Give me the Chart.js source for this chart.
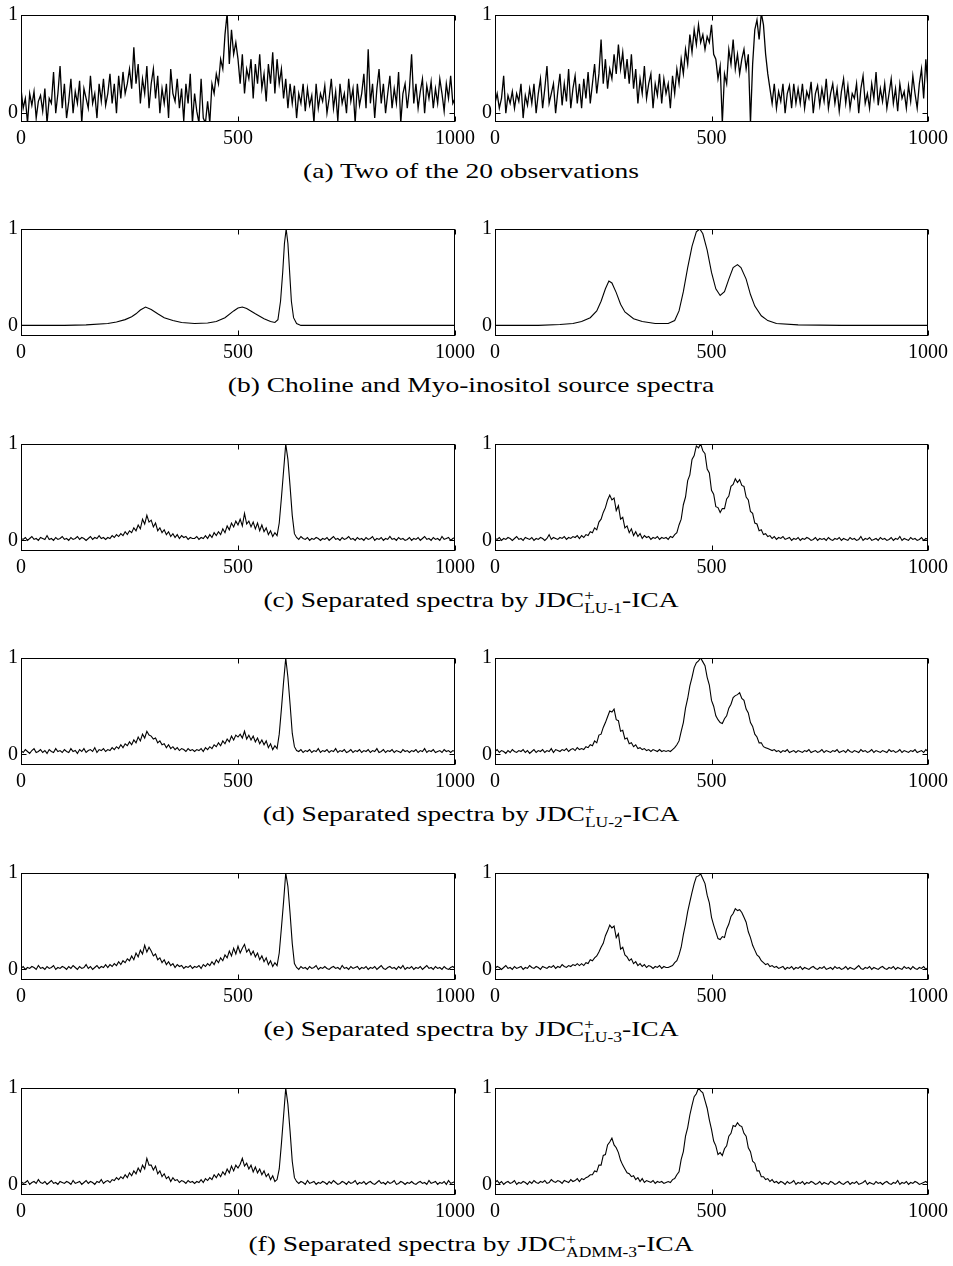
<!DOCTYPE html>
<html><head><meta charset="utf-8">
<script src="https://cdn.jsdelivr.net/npm/chart.js@4.4.1/dist/chart.umd.min.js"></script>
<style>
body{margin:0;background:#fff;width:953px;height:1266px;position:relative;overflow:hidden;font-family:"Liberation Serif",serif;}
canvas{position:absolute;}
.cap{position:absolute;left:0;width:942px;text-align:center;font-size:22px;line-height:24px;color:#000;white-space:nowrap;transform:scaleX(1.25);transform-origin:471px 50%;}
.ss{display:inline-block;vertical-align:-6px;font-size:14px;line-height:13px;text-align:left;}
.ss span{display:block;}
</style></head><body>
<script>
// ---------- DATA ----------
const xTicks = [0, 500, 1000];
const yTicks = [0, 1];
const sampleStep = 5;   // one value every 5 samples, 0..1000

// (a) two of the 20 observations
const obs1 = [
 0.25,0.05,0.15,-0.1,0.2,0.08,0.22,-0.05,0.12,0.18,0.02,0.25,-0.1,0.15,0.1,0.42,0.0,0.2,0.48,0.05,
 0.3,-0.05,0.12,0.35,0.0,0.22,0.1,0.33,-0.1,0.25,0.15,0.05,0.38,0.1,0.2,-0.05,0.3,0.12,0.35,0.08,
 0.2,0.4,0.1,0.3,0.0,0.38,0.15,0.42,0.2,0.3,0.45,0.25,0.67,0.3,0.5,0.1,0.35,0.2,0.48,0.05,
 0.3,0.45,0.15,0.38,0.0,0.25,0.1,0.3,-0.05,0.45,0.2,0.12,0.35,0.05,0.25,-0.08,0.3,0.1,0.4,-0.1,
 0.2,0.02,-0.1,0.35,-0.05,-0.1,0.12,-0.1,0.3,0.2,0.4,0.3,0.55,0.45,0.8,1.02,0.5,0.85,0.6,0.72,
 0.55,0.3,0.6,0.2,0.45,0.35,0.55,0.15,0.5,0.3,0.6,0.25,0.4,0.12,0.5,0.3,0.62,0.2,0.55,0.3,
 0.45,0.15,0.35,0.05,0.3,0.1,0.28,-0.05,0.2,0.1,0.3,0.02,0.25,0.08,0.18,-0.1,0.3,0.05,0.2,0.12,
 0.28,0.0,0.15,0.35,0.05,0.22,-0.08,0.3,0.1,0.2,0.0,0.35,0.12,0.25,-0.1,0.3,0.08,0.2,0.4,0.05,
 0.65,0.1,0.3,-0.05,0.25,0.45,0.1,0.3,0.0,0.2,0.38,0.05,0.25,0.1,0.42,-0.1,0.2,0.3,0.05,0.25,
 0.6,0.1,0.3,0.05,0.22,0.35,0.0,0.28,0.15,0.32,0.05,0.25,0.1,0.35,0.2,0.02,0.3,0.15,0.38,0.1,
 0.15];
const obs2 = [
 0.1,0.2,0.05,0.15,0.38,0.0,0.18,0.1,0.22,0.05,0.2,0.12,0.3,-0.05,0.18,0.08,0.25,0.1,0.3,0.0,
 0.2,0.35,0.05,0.25,0.48,0.1,0.2,0.3,0.0,0.22,0.4,0.08,0.3,0.12,0.45,0.05,0.25,0.38,0.1,0.3,
 0.05,0.35,0.15,0.42,0.1,0.3,0.5,0.2,0.4,0.75,0.3,0.55,0.25,0.45,0.35,0.6,0.4,0.7,0.45,0.62,
 0.35,0.55,0.3,0.6,0.25,0.45,0.1,0.35,0.2,0.48,0.15,0.3,0.4,0.05,0.3,0.18,0.4,0.1,0.35,0.2,
 0.3,0.05,0.38,0.2,0.45,0.3,0.55,0.4,0.65,0.5,0.8,0.62,0.85,0.7,0.9,0.72,0.8,0.65,0.78,0.72,
 0.9,0.6,0.55,0.35,0.48,-0.1,0.4,0.3,0.65,0.5,0.75,0.45,0.6,0.4,0.55,0.65,0.45,0.6,-0.1,0.5,
 0.85,0.95,0.75,1.02,0.9,0.6,0.4,0.25,0.1,0.3,0.05,0.22,0.12,0.3,0.0,0.2,0.28,0.05,0.3,0.1,
 0.25,0.1,0.3,0.05,0.22,0.15,0.32,0.0,0.2,0.28,0.08,0.25,0.12,0.35,0.05,0.2,0.3,0.1,0.25,0.02,
 0.22,0.35,0.1,0.28,0.05,0.2,0.15,0.3,0.0,0.25,0.38,0.1,0.2,0.05,0.3,0.15,0.42,0.08,0.25,0.12,
 0.3,0.05,0.2,0.35,0.1,0.25,0.02,0.3,0.15,0.22,0.05,0.28,0.12,0.38,0.2,0.05,0.3,0.45,0.15,0.55,
 0.25];

// (b) source spectra (smooth, read at these positions)
const cholineX = [0,100,150,200,220,240,255,265,275,287,300,315,330,350,370,400,430,450,470,490,500,510,520,540,560,575,585,592,598,603,607,611,615,619,623,628,635,645,700,800,1000];
const cholineY = [0,0,0.005,0.02,0.035,0.06,0.09,0.12,0.16,0.19,0.165,0.12,0.08,0.05,0.03,0.02,0.025,0.04,0.08,0.15,0.18,0.19,0.175,0.12,0.07,0.04,0.03,0.06,0.25,0.55,0.85,1.0,0.85,0.55,0.25,0.08,0.02,0,0,0,0];
const myoX = [0,100,150,180,200,220,235,245,255,263,270,280,290,300,320,340,370,400,415,425,435,445,455,465,473,480,490,500,510,520,530,540,550,560,568,580,590,600,615,630,650,700,800,1000];
const myoY = [0,0,0.01,0.02,0.04,0.08,0.15,0.25,0.38,0.46,0.44,0.34,0.22,0.14,0.07,0.04,0.02,0.02,0.05,0.15,0.35,0.6,0.82,0.97,1.0,0.95,0.78,0.55,0.38,0.31,0.35,0.48,0.6,0.63,0.6,0.48,0.32,0.2,0.1,0.05,0.02,0.005,0,0];

// (c)-(f) separated spectra (left: choline estimate, right: myo-inositol estimate)
const sepLU1a = [
 .02,.01,.03,.0,.02,.04,.01,.02,.0,.03,.02,.01,.05,.01,.02,.0,.03,.01,.02,.04,
 .01,.02,.0,.03,.01,.02,.04,.01,.03,.02,.0,.02,.04,.01,.03,.02,.05,.02,.03,.01,
 .03,.02,.05,.03,.06,.04,.07,.05,.09,.06,.1,.08,.13,.1,.16,.12,.22,.17,.26,.19,
 .21,.14,.18,.1,.13,.08,.11,.06,.09,.04,.07,.03,.06,.02,.05,.03,.04,.01,.03,.02,
 .02,.04,.01,.03,.02,.05,.02,.06,.03,.08,.05,.09,.06,.12,.08,.15,.11,.18,.14,.2,
 .16,.22,.15,.28,.17,.2,.14,.19,.12,.18,.1,.16,.09,.13,.06,.1,.04,.08,.05,.18,
 .44,.72,1.0,.84,.56,.26,.07,.03,.01,.04,.02,.01,.03,.0,.02,.01,.03,.02,.0,.02,
 .01,.03,.0,.02,.04,.01,.02,.0,.03,.01,.02,.04,.01,.02,.0,.03,.01,.02,.0,.03,
 .01,.02,.04,.0,.02,.01,.03,.0,.02,.01,.04,.01,.02,.0,.03,.01,.02,.0,.01,.03,
 .0,.02,.01,.03,.0,.02,.04,.01,.02,.0,.03,.01,.02,.0,.04,.01,.02,.03,.0,.02,
 .03];
const sepLU1b = [
 .02,.01,.03,.0,.02,.01,.03,.02,.0,.02,.04,.01,.02,.0,.03,.02,.01,.03,.0,.02,
 .01,.03,.02,.0,.02,.06,.01,.03,.02,.01,.03,.02,.04,.01,.03,.02,.04,.03,.05,.02,
 .05,.03,.06,.05,.09,.08,.13,.11,.19,.22,.29,.34,.42,.47,.42,.44,.31,.36,.22,.24,
 .13,.15,.08,.12,.05,.09,.04,.07,.02,.05,.03,.04,.01,.03,.02,.04,.01,.03,.02,.03,
 .01,.04,.03,.06,.08,.16,.22,.37,.45,.62,.68,.84,.88,.98,.96,1.0,.93,.9,.74,.7,
 .52,.48,.35,.34,.29,.33,.33,.43,.46,.56,.58,.64,.6,.63,.57,.56,.45,.42,.3,.28,
 .18,.17,.1,.11,.06,.07,.04,.05,.02,.04,.01,.03,.02,.04,.01,.02,.03,.0,.02,.01,
 .03,.0,.02,.01,.03,.02,.0,.01,.03,.0,.02,.01,.02,.0,.03,.01,.0,.02,.01,.03,
 .0,.02,.01,.0,.03,.01,.02,.0,.01,.04,.0,.02,.01,.03,.0,.01,.02,.0,.03,.01,
 .02,.0,.01,.03,.0,.02,.01,.04,.0,.02,.01,.0,.03,.01,.02,.0,.01,.03,.0,.02,
 .01];

const sepLU2a = [
 .04,.02,.05,.03,.01,.04,.06,.02,.03,.05,.02,.04,.01,.05,.03,.02,.06,.03,.04,.02,
 .05,.03,.02,.06,.03,.04,.01,.05,.03,.06,.02,.04,.05,.03,.07,.02,.05,.04,.06,.03,
 .05,.04,.07,.05,.08,.06,.1,.07,.11,.09,.13,.1,.15,.12,.18,.14,.21,.17,.24,.2,
 .19,.16,.17,.12,.14,.1,.11,.07,.1,.06,.08,.05,.07,.04,.06,.05,.03,.06,.04,.05,
 .03,.05,.04,.06,.03,.07,.05,.08,.06,.1,.08,.12,.09,.14,.11,.16,.13,.19,.15,.2,
 .18,.21,.17,.24,.16,.2,.15,.19,.13,.17,.11,.15,.1,.14,.07,.11,.05,.09,.06,.21,
 .47,.75,1.0,.8,.52,.22,.08,.04,.03,.05,.02,.04,.03,.05,.02,.04,.03,.06,.02,.04,
 .03,.05,.02,.04,.03,.06,.02,.04,.03,.05,.02,.03,.05,.02,.04,.03,.05,.02,.04,.03,
 .05,.02,.04,.03,.06,.02,.03,.05,.02,.04,.03,.05,.02,.04,.03,.02,.05,.03,.04,.02,
 .04,.03,.05,.02,.04,.03,.06,.02,.04,.03,.05,.02,.03,.04,.02,.05,.03,.04,.02,.04,
 .03];
const sepLU2b = [
 .03,.05,.02,.04,.03,.01,.04,.02,.05,.03,.02,.04,.03,.05,.02,.04,.01,.03,.05,.02,
 .04,.03,.05,.02,.04,.03,.06,.02,.05,.04,.03,.05,.04,.06,.03,.05,.06,.04,.07,.05,
 .06,.05,.08,.07,.1,.09,.14,.12,.2,.21,.28,.33,.39,.45,.44,.47,.36,.35,.24,.25,
 .16,.17,.11,.12,.08,.1,.06,.07,.05,.06,.04,.05,.03,.05,.04,.03,.05,.03,.04,.03,
 .04,.03,.05,.07,.1,.14,.24,.33,.48,.58,.71,.8,.9,.95,.97,1.0,.96,.92,.8,.72,
 .56,.5,.4,.36,.33,.32,.37,.4,.48,.52,.59,.61,.62,.64,.58,.56,.47,.43,.33,.29,
 .21,.18,.12,.12,.08,.07,.06,.05,.04,.05,.03,.04,.02,.04,.03,.05,.02,.03,.04,.02,
 .04,.03,.02,.04,.03,.05,.02,.03,.04,.02,.03,.05,.02,.04,.03,.02,.04,.03,.05,.02,
 .03,.04,.02,.05,.03,.02,.04,.03,.02,.05,.03,.04,.02,.03,.05,.02,.04,.03,.02,.04,
 .03,.02,.05,.03,.04,.02,.03,.05,.02,.04,.03,.02,.04,.03,.05,.02,.03,.04,.02,.05,
 .03];

const sepLU3a = [
 .01,.03,.0,.02,.01,.03,.02,.0,.04,.01,.02,.0,.03,.01,.02,.04,.0,.02,.01,.03,
 .02,.0,.03,.01,.04,.02,.0,.03,.01,.02,.05,.01,.03,.0,.02,.04,.01,.03,.02,.05,
 .02,.05,.03,.06,.04,.08,.05,.09,.07,.11,.09,.14,.1,.17,.13,.2,.16,.25,.18,.23,
 .19,.14,.16,.1,.12,.07,.1,.05,.08,.04,.06,.02,.05,.03,.04,.01,.03,.02,.04,.01,
 .03,.02,.04,.01,.05,.03,.06,.04,.08,.05,.1,.07,.12,.09,.15,.12,.19,.14,.22,.16,
 .24,.17,.22,.26,.18,.21,.15,.19,.13,.17,.1,.14,.08,.12,.05,.09,.03,.07,.04,.17,
 .43,.7,1.0,.86,.58,.27,.06,.02,.0,.03,.01,.02,.0,.03,.01,.02,.04,.0,.02,.01,
 .03,.01,.0,.02,.03,.01,.02,.0,.04,.01,.02,.0,.03,.01,.02,.03,.0,.02,.01,.03,
 .0,.02,.01,.03,.0,.02,.04,.01,.0,.02,.03,.01,.02,.0,.03,.01,.04,.0,.02,.01,
 .03,.0,.02,.01,.03,.0,.02,.04,.01,.02,.0,.03,.01,.02,.0,.03,.01,.0,.02,.03,
 .01];
const sepLU3b = [
 .01,.03,.02,.0,.02,.04,.01,.02,.0,.03,.01,.02,.03,.0,.02,.01,.04,.02,.01,.03,
 .02,.0,.03,.02,.01,.03,.02,.04,.01,.03,.02,.05,.03,.02,.04,.03,.05,.04,.06,.04,
 .06,.04,.07,.06,.1,.09,.12,.14,.18,.23,.27,.35,.4,.46,.43,.45,.33,.37,.21,.23,
 .15,.13,.09,.11,.06,.08,.04,.06,.03,.05,.02,.04,.03,.01,.03,.02,.04,.01,.03,.02,
 .02,.03,.04,.07,.09,.15,.23,.36,.47,.6,.7,.8,.89,.96,.97,.99,.94,.89,.77,.69,
 .54,.46,.39,.32,.31,.34,.33,.42,.47,.55,.58,.63,.61,.62,.59,.54,.49,.39,.33,.25,
 .2,.15,.13,.09,.07,.05,.06,.03,.04,.02,.03,.01,.02,.03,.0,.02,.01,.03,.0,.02,
 .01,.03,.0,.02,.01,.0,.02,.03,.01,.0,.02,.01,.03,.0,.01,.02,.0,.03,.01,.02,
 .0,.01,.03,.0,.02,.01,.0,.02,.04,.01,.0,.02,.01,.03,.0,.02,.01,.0,.02,.03,
 .01,.0,.02,.01,.03,.0,.02,.01,.0,.03,.01,.02,.0,.03,.01,.0,.02,.01,.03,.0,
 .02];

const sepADMMa = [
 .03,.01,.02,.04,.0,.02,.03,.01,.05,.02,.01,.03,.0,.02,.04,.01,.02,.0,.03,.02,
 .01,.03,.02,.0,.04,.01,.02,.03,.0,.02,.04,.01,.03,.02,.0,.03,.02,.05,.01,.03,
 .04,.02,.05,.04,.07,.05,.08,.06,.1,.07,.12,.09,.14,.11,.17,.13,.2,.16,.27,.2,
 .2,.15,.19,.11,.14,.08,.11,.06,.08,.03,.07,.04,.05,.02,.04,.03,.01,.04,.02,.03,
 .01,.03,.02,.05,.02,.06,.04,.07,.05,.1,.07,.11,.08,.13,.1,.16,.12,.19,.14,.2,
 .17,.21,.27,.19,.22,.16,.2,.13,.18,.12,.16,.1,.14,.08,.11,.05,.09,.03,.05,.16,
 .42,.71,1.0,.83,.55,.24,.07,.03,.01,.03,.02,.0,.04,.01,.02,.03,.0,.02,.01,.03,
 .02,.0,.03,.01,.04,.02,.0,.01,.03,.02,.0,.03,.01,.02,.04,.0,.02,.01,.03,.0,
 .02,.03,.01,.0,.02,.04,.01,.02,.0,.03,.01,.02,.04,.0,.01,.03,.02,.0,.02,.01,
 .03,.01,.0,.02,.03,.01,.02,.0,.04,.01,.02,.03,.0,.02,.01,.03,.0,.04,.01,.02,
 .03];
const sepADMMb = [
 .02,.04,.01,.03,.0,.02,.03,.01,.02,.04,.0,.02,.01,.03,.02,.0,.03,.01,.04,.02,
 .01,.03,.02,.04,.01,.02,.05,.03,.02,.04,.03,.01,.04,.03,.02,.05,.03,.04,.06,.03,
 .06,.05,.07,.08,.1,.1,.14,.13,.2,.2,.3,.31,.41,.44,.48,.41,.38,.33,.25,.2,
 .16,.12,.11,.08,.09,.05,.07,.03,.06,.02,.04,.03,.02,.04,.01,.03,.02,.03,.01,.02,
 .03,.02,.05,.06,.1,.13,.26,.34,.5,.59,.72,.82,.91,.94,1.0,.97,.95,.87,.79,.67,
 .57,.45,.4,.31,.33,.3,.37,.4,.5,.53,.61,.6,.64,.61,.6,.53,.5,.38,.34,.24,
 .22,.14,.14,.08,.08,.05,.06,.03,.05,.02,.03,.01,.03,.02,.0,.03,.01,.02,.04,.0,
 .02,.01,.03,.0,.02,.01,.03,.02,.0,.01,.03,.0,.02,.01,.0,.03,.02,.0,.01,.03,
 .01,.0,.02,.03,.0,.02,.01,.03,.0,.01,.02,.04,.0,.02,.01,.0,.03,.01,.02,.0,
 .02,.03,.01,.0,.02,.01,.04,.0,.02,.01,.03,.0,.02,.01,.03,.02,.0,.01,.02,.03,
 .01];

// ---------- LAYOUT ----------
const rowTops = [12, 226, 441, 655, 870, 1085];
const plotH = 110;
const padTop = 12, axisH = 28, padRight = 24;
const tickFont = {family: 'Liberation Serif', size: 20};

const seriesChecks = {obs1, obs2, sepLU1a, sepLU1b, sepLU2a, sepLU2b, sepLU3a, sepLU3b, sepADMMa, sepADMMb};
Object.keys(seriesChecks).forEach(k => {
  if (seriesChecks[k].length !== 201) throw new Error(k + ' has ' + seriesChecks[k].length + ' values');
});
const sampleX = obs1.map((_, i) => i * sampleStep);

const panels = [
  [sampleX, obs1, sampleX, obs2, -0.09, 1.3],
  [cholineX, cholineY, myoX, myoY, -0.11, 1.1],
  [sampleX, sepLU1a, sampleX, sepLU1b, -0.11, 1.1],
  [sampleX, sepLU2a, sampleX, sepLU2b, -0.11, 1.1],
  [sampleX, sepLU3a, sampleX, sepLU3b, -0.11, 1.1],
  [sampleX, sepADMMa, sampleX, sepADMMb, -0.11, 1.1]
];

const framePlugin = {
  id: 'frame',
  afterDraw(chart) {
    const {ctx, chartArea: a, scales: {x, y}} = chart;
    const L = Math.round(a.left) + 0.5, R = Math.round(a.right) - 0.5;
    const T = Math.round(a.top) + 0.5, B = Math.round(a.bottom) - 0.5;
    ctx.save();
    ctx.strokeStyle = '#000';
    ctx.lineWidth = 1;
    ctx.strokeRect(L, T, R - L, B - T);
    ctx.beginPath();
    xTicks.forEach(v => {
      const p = Math.round(x.getPixelForValue(v)) + 0.5;
      ctx.moveTo(p, B); ctx.lineTo(p, B - 5);
      ctx.moveTo(p, T); ctx.lineTo(p, T + 5);
    });
    yTicks.forEach(v => {
      const p = Math.round(y.getPixelForValue(v)) + 0.5;
      ctx.moveTo(L, p); ctx.lineTo(L + 5, p);
      ctx.moveTo(R, p); ctx.lineTo(R - 5, p);
    });
    ctx.stroke();
    ctx.restore();
  }
};

function makeChart(canvasLeft, top, sideW, xs, ys, yMin, lw) {
  const c = document.createElement('canvas');
  const w = 480, h = padTop + plotH + axisH;
  c.width = w; c.height = h;
  c.style.left = canvasLeft + 'px';
  c.style.top = (top - padTop) + 'px';
  c.style.width = w + 'px'; c.style.height = h + 'px';
  document.body.appendChild(c);
  new Chart(c.getContext('2d'), {
    type: 'line',
    data: {datasets: [{
      data: xs.map((x, i) => ({x: x, y: ys[i]})),
      borderColor: '#000', borderWidth: lw, pointRadius: 0, tension: 0, fill: false
    }]},
    options: {
      responsive: false, animation: false, events: [],
      layout: {padding: {top: padTop, right: padRight, left: 0, bottom: 0}},
      plugins: {legend: {display: false}, tooltip: {enabled: false}},
      scales: {
        x: {
          type: 'linear', min: 0, max: 1000,
          afterBuildTicks: s => { s.ticks = xTicks.map(v => ({value: v})); },
          afterFit: s => { s.height = axisH; },
          ticks: {font: tickFont, color: '#000', padding: 5, maxRotation: 0, autoSkip: false, callback: v => String(v)},
          grid: {display: false, drawTicks: false}, border: {display: false}
        },
        y: {
          type: 'linear', min: yMin, max: 1,
          afterBuildTicks: s => { s.ticks = yTicks.map(v => ({value: v})); },
          afterFit: s => { s.width = sideW; },
          ticks: {font: tickFont, color: '#000', padding: 3, autoSkip: false, callback: v => String(v)},
          grid: {display: false, drawTicks: false}, border: {display: false}
        }
      }
    },
    plugins: [framePlugin]
  });
}

panels.forEach((p, r) => {
  makeChart(0, rowTops[r], 21, p[0], p[1], p[4], p[5]);
  makeChart(473, rowTops[r], 22, p[2], p[3], p[4], p[5]);
});

// ---------- CAPTIONS ----------
const captions = [
  '(a) Two of the 20 observations',
  '(b) Choline and Myo-inositol source spectra',
  '(c) Separated spectra by JDC<span class="ss"><span>+</span><span>LU-1</span></span>-ICA',
  '(d) Separated spectra by JDC<span class="ss"><span>+</span><span>LU-2</span></span>-ICA',
  '(e) Separated spectra by JDC<span class="ss"><span>+</span><span>LU-3</span></span>-ICA',
  '(f) Separated spectra by JDC<span class="ss"><span>+</span><span>ADMM-3</span></span>-ICA'
];
captions.forEach((t, r) => {
  const d = document.createElement('div');
  d.className = 'cap';
  d.style.top = (rowTops[r] + plotH + 56 - 19) + 'px';
  d.innerHTML = t;
  document.body.appendChild(d);
});
</script>
</body></html>
